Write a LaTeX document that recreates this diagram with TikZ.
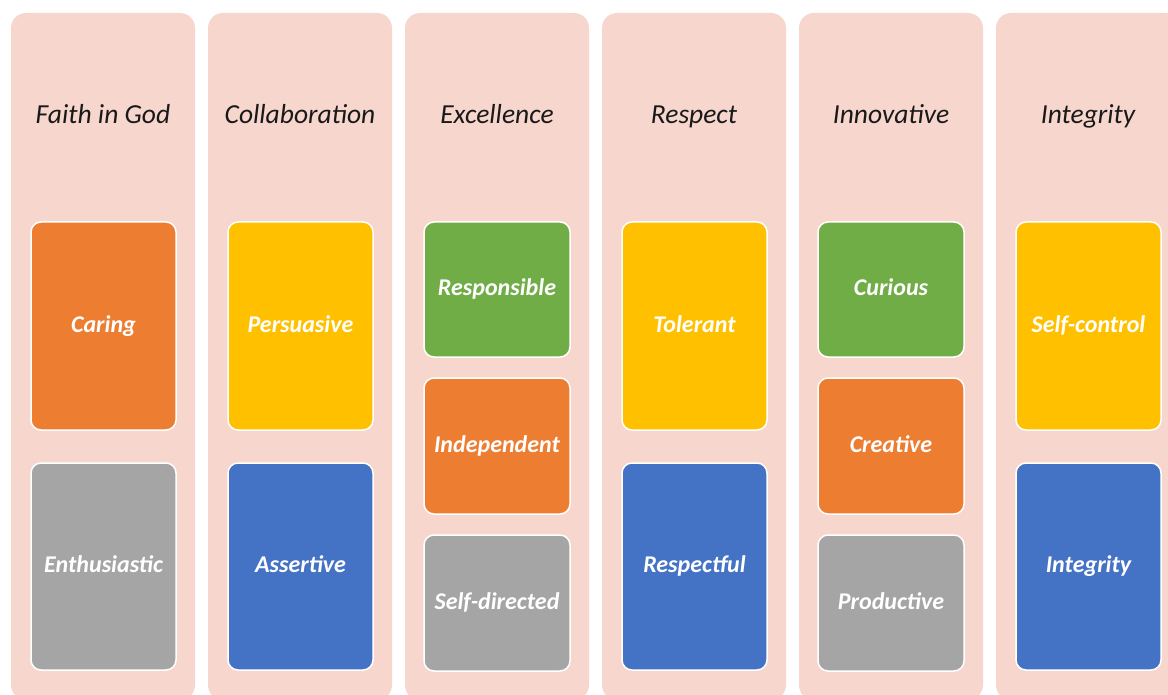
\documentclass[tikz,border=0pt]{standalone}
\usepackage{fontspec}
\setmainfont{Carlito}
\definecolor{pinkbg}{HTML}{F7D7CD}
\definecolor{corange}{HTML}{ED7D31}
\definecolor{cyellow}{HTML}{FFC000}
\definecolor{cgray}{HTML}{A5A5A5}
\definecolor{cblue}{HTML}{4472C4}
\definecolor{cgreen}{HTML}{70AD47}
\tikzset{
  colbox/.style={fill=pinkbg, draw=none, rounded corners=15pt},
  card/.style={draw=white, line width=1.5pt, rounded corners=10pt},
  head/.style={anchor=base, inner sep=0pt, font=\fontsize{27.5}{32}\selectfont\itshape, text=black!90},
  cardtext/.style={anchor=base, inner sep=0pt, font=\fontsize{24}{28}\selectfont\bfseries\itshape, text=white},
}
\begin{document}
\begin{tikzpicture}[x=1pt,y=-1pt]
\useasboundingbox (0,0) rectangle (1168,695);
\clip (0,0) rectangle (1168,695);
\fill[white] (0,0) rectangle (1168,695);
% columns
\foreach \i/\t in {0/Faith in God,1/Collaboration,2/Excellence,3/Respect,4/Innovative,5/Integrity}{
  \pgfmathsetmacro{\xl}{11+197*\i}
  \fill[colbox] (\xl,13) rectangle (\xl+184,700);
  \node[head] (h\i) at (\xl+92,124) {\t};
}
% two-card columns
\foreach \i/\ca/\ta/\cb/\tb in {0/corange/Caring/cgray/Enthusiastic,1/cyellow/Persuasive/cblue/Assertive,3/cyellow/Tolerant/cblue/Respectful,5/cyellow/Self-control/cblue/Integrity}{
  \pgfmathsetmacro{\xl}{31+197*\i}
  \filldraw[card, fill=\ca] (\xl,222) rectangle (\xl+145,430);
  \node[cardtext] (a\i) at (\xl+72.5,332) {\ta};
  \filldraw[card, fill=\cb] (\xl,463) rectangle (\xl+145,670);
  \node[cardtext] (b\i) at (\xl+72.5,572.5) {\tb};
}
% three-card columns
\foreach \i/\ca/\ta/\cb/\tb/\cc/\tc in {2/cgreen/Responsible/corange/Independent/cgray/Self-directed,4/cgreen/Curious/corange/Creative/cgray/Productive}{
  \pgfmathsetmacro{\xl}{424+197*(\i-2)}
  \filldraw[card, fill=\ca] (\xl,222) rectangle (\xl+146,357);
  \node[cardtext] (a\i) at (\xl+73,295.5) {\ta};
  \filldraw[card, fill=\cb] (\xl,378) rectangle (\xl+146,514);
  \node[cardtext] (b\i) at (\xl+73,452) {\tb};
  \filldraw[card, fill=\cc] (\xl,535) rectangle (\xl+146,671);
  \node[cardtext] (c\i) at (\xl+73,609) {\tc};
}
\end{tikzpicture}
\end{document}
